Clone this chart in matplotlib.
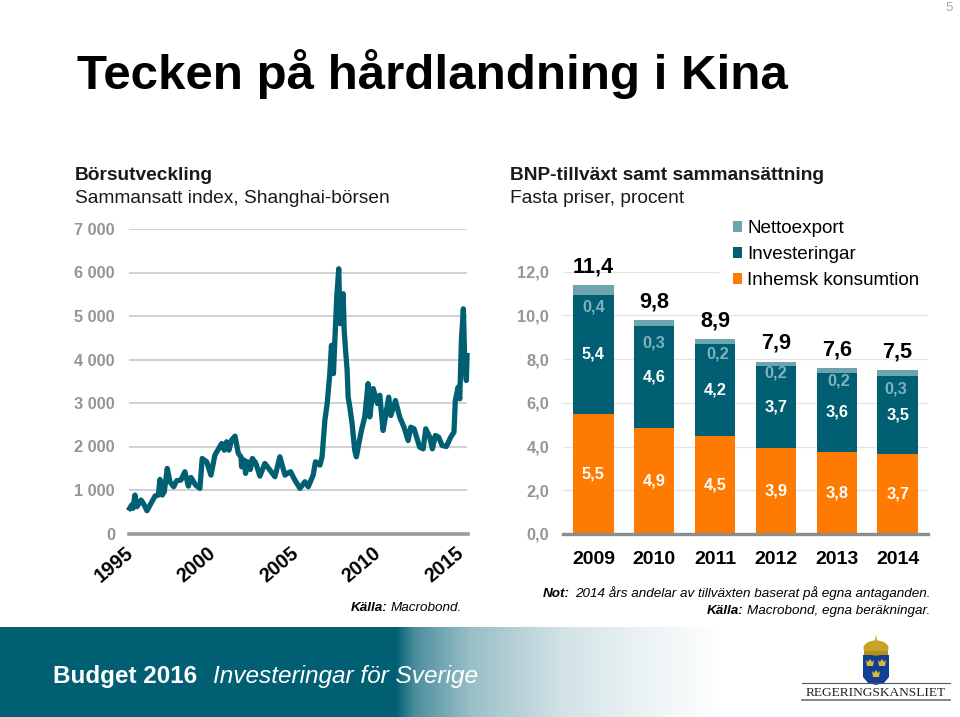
import numpy as np
import matplotlib
matplotlib.use('Agg')
import matplotlib.pyplot as plt
from matplotlib.patches import Polygon, Rectangle, Ellipse
from matplotlib.transforms import ScaledTranslation

plt.rcParams['font.family'] = ['Liberation Sans', 'DejaVu Sans']

W, H = 960, 717
TEAL = '#005f73'
LIGHT_TEAL = '#6ea4af'
ORANGE = '#ff7a00'
GREY = '#959595'

# Shanghai composite
index_years = [1995.04, 1995.16, 1995.24, 1995.36, 1995.48, 1995.73, 1995.87, 1996.09, 1996.33, 1996.58,
               1996.78, 1996.88, 1997.02, 1997.14, 1997.32, 1997.48, 1997.71, 1997.89, 1998.15, 1998.39,
               1998.60, 1998.76, 1999.04, 1999.30, 1999.44, 1999.71, 1999.97, 2000.21, 2000.62, 2000.78,
               2000.92, 2001.06, 2001.22, 2001.43, 2001.63, 2001.79, 2001.83, 2001.99, 2002.07, 2002.19,
               2002.36, 2002.48, 2002.68, 2002.94, 2003.24, 2003.55, 2003.85, 2004.15, 2004.46, 2004.66,
               2004.80, 2005.06, 2005.37, 2005.67, 2005.87, 2006.17, 2006.31, 2006.58, 2006.71, 2006.88,
               2007.02, 2007.18, 2007.28, 2007.40, 2007.52, 2007.60, 2007.72, 2007.80, 2007.99, 2008.05,
               2008.15, 2008.23, 2008.29, 2008.39, 2008.53, 2008.69, 2008.79, 2008.94, 2009.10, 2009.30,
               2009.50, 2009.60, 2009.81, 2010.07, 2010.21, 2010.41, 2010.55, 2010.75, 2010.88, 2011.16,
               2011.42, 2011.68, 2011.93, 2012.09, 2012.29, 2012.63, 2012.84, 2013.00, 2013.24, 2013.40,
               2013.58, 2013.78, 2013.99, 2014.25, 2014.51, 2014.71, 2014.79, 2014.96, 2015.06, 2015.16,
               2015.28, 2015.36, 2015.46, 2015.50]
index_values = [578, 654, 578, 884, 616, 769, 692, 524, 692, 861,
                884, 1243, 884, 960, 1496, 1190, 1075, 1213, 1228, 1419,
                1090, 1289, 1113, 1037, 1725, 1649, 1343, 1802, 2069, 1916,
                2108, 1916, 2146, 2238, 1840, 1763, 1534, 1687, 1381, 1649,
                1472, 1725, 1625, 1319, 1610, 1457, 1304, 1763, 1343, 1395,
                1419, 1228, 1037, 1190, 1075, 1343, 1649, 1572, 1763, 2605,
                2987, 3676, 4326, 3676, 4747, 5435, 6086, 4823, 5512, 4670,
                4135, 3752, 3140, 2911, 2528, 1916, 1763, 2069, 2375, 2681,
                3446, 2681, 3332, 2987, 3179, 2368, 2674, 3134, 2712, 3057,
                2674, 2444, 2138, 2444, 2406, 1985, 1946, 2406, 2214, 1946,
                2253, 2214, 2023, 2000, 2214, 2329, 3057, 3363, 3095, 4436,
                5164, 3976, 3517, 4091]
index_yticks = [0, 1000, 2000, 3000, 4000, 5000, 6000, 7000]
index_ylabels = ['0', '1 000', '2 000', '3 000', '4 000', '5 000', '6 000', '7 000']
index_xticks = [1995, 2000, 2005, 2010, 2015]

# GDP growth contributions
gdp_years = ['2009', '2010', '2011', '2012', '2013', '2014']
consumption = [5.5, 4.85, 4.5, 3.92, 3.75, 3.66]
investment = [5.43, 4.65, 4.2, 3.75, 3.63, 3.55]
net_export = [0.45, 0.3, 0.2, 0.22, 0.2, 0.28]
consumption_labels = ['5,5', '4,9', '4,5', '3,9', '3,8', '3,7']
investment_labels = ['5,4', '4,6', '4,2', '3,7', '3,6', '3,5']
net_export_labels = ['0,4', '0,3', '0,2', '0,2', '0,2', '0,3']
total_labels = ['11,4', '9,8', '8,9', '7,9', '7,6', '7,5']
gdp_yticks = [0, 2, 4, 6, 8, 10, 12]
gdp_ylabels = ['0,0', '2,0', '4,0', '6,0', '8,0', '10,0', '12,0']


def axes_px(fig, left, top, right, bottom, **kw):
    return fig.add_axes([left / W, 1 - bottom / H, (right - left) / W, (bottom - top) / H], **kw)


fig = plt.figure(figsize=(9.6, 7.17), dpi=100, facecolor='white')

# full figure overlay in pixel coordinates for the slide furniture
bg = axes_px(fig, 0, 0, W, H, zorder=0)
bg.axis('off')

# footer band
ramp = np.interp(np.arange(W), [0, 395, 415, 470, 560, 640, 720, 960], [0, 0, 0.3, 0.6, 0.82, 0.92, 1, 1])
teal_rgb = np.array(matplotlib.colors.to_rgb(TEAL))
band = teal_rgb + (1 - teal_rgb) * ramp[:, None]
bg.imshow(band[None, :, :], extent=(0, W, H, 627), aspect='auto', zorder=1)
bg.set_xlim(0, W)
bg.set_ylim(H, 0)

bg.text(53, 683, 'Budget 2016', fontsize=17.5, fontweight='bold', color='white', va='baseline')
bg.text(213, 683, 'Investeringar för Sverige', fontsize=17.6, fontstyle='italic', color='white', va='baseline')

bg.text(77, 89, 'Tecken på hårdlandning i Kina', fontsize=35.5, fontweight='bold', color='black', va='baseline')
bg.text(953, 11, '5', fontsize=9.5, color='#a8a8a8', ha='right', va='baseline')

bg.text(75, 180, 'Börsutveckling', fontsize=13.75, fontweight='bold', color='#1a1a1a', va='baseline')
bg.text(75, 203, 'Sammansatt index, Shanghai-börsen', fontsize=13.75, color='#1a1a1a', va='baseline')
bg.text(510, 180, 'BNP-tillväxt samt sammansättning', fontsize=13.75, fontweight='bold', color='#1a1a1a', va='baseline')
bg.text(510, 203, 'Fasta priser, procent', fontsize=13.75, color='#1a1a1a', va='baseline')

bg.text(351, 611, 'Källa:', fontsize=9.7, fontweight='bold', fontstyle='italic', va='baseline')
bg.text(391, 611, 'Macrobond.', fontsize=9.7, fontstyle='italic', va='baseline')
bg.text(543, 597, 'Not:', fontsize=9.7, fontweight='bold', fontstyle='italic', va='baseline')
bg.text(575, 597, '2014 års andelar av tillväxten baserat på egna antaganden.', fontsize=9.7, fontstyle='italic', va='baseline')
bg.text(707, 614, 'Källa:', fontsize=9.7, fontweight='bold', fontstyle='italic', va='baseline')
bg.text(747, 614, 'Macrobond, egna beräkningar.', fontsize=9.7, fontstyle='italic', va='baseline')

# logo
bg.add_patch(Polygon([(863, 655), (889, 655), (889, 677), (884, 683), (876, 685), (868, 683), (863, 677)],
                     facecolor='#123f94', edgecolor='none', zorder=3))
bg.add_patch(Ellipse((876, 648), 25, 15, facecolor='#c9a227', edgecolor='none', zorder=3))
bg.add_patch(Rectangle((864, 651), 24, 4, facecolor='#b58f1e', edgecolor='none', zorder=3))
bg.add_patch(Polygon([(874.5, 642), (876, 635), (877.5, 642)], facecolor='#c9a227', edgecolor='none', zorder=3))
for cx, cy in [(870, 663), (882, 663), (876, 674)]:
    bg.add_patch(Polygon([(cx - 4, cy - 3), (cx - 2, cy - 1), (cx, cy - 4), (cx + 2, cy - 1), (cx + 4, cy - 3),
                          (cx + 3, cy + 3), (cx - 3, cy + 3)], facecolor='#d9b93a', edgecolor='none', zorder=4))
bg.plot([802, 950], [683, 683], color='#555555', lw=0.8, zorder=3)
bg.plot([802, 950], [700, 700], color='#888888', lw=1.4, zorder=3)
bg.text(876, 696.5, 'REGERINGSKANSLIET', family=['Liberation Serif'], fontsize=9.6, color='#222222',
        ha='center', va='baseline', zorder=3)

# left panel: index
ax1 = axes_px(fig, 129, 229, 467.5, 533.5, zorder=2)
ax1.patch.set_alpha(0)
ax1.plot(index_years, index_values, color=TEAL, lw=3.8, solid_joinstyle='round', clip_on=False, zorder=3)
ax1.set_xlim(1995, 2015.53)
ax1.set_ylim(0, 7000)
ax1.set_yticks(index_yticks)
ax1.set_yticklabels(index_ylabels, fontsize=11.8, fontweight='bold', color=GREY)
ax1.set_xticks(index_xticks)
ax1.set_xticklabels(index_xticks, rotation=40, ha='right', rotation_mode='anchor', fontsize=14.2, fontweight='bold')
ax1.tick_params(axis='y', length=0, pad=10)
ax1.tick_params(axis='x', length=0, pad=7)
shift = ScaledTranslation(-4 / 100, 0, fig.dpi_scale_trans)
for lab in ax1.get_xticklabels():
    lab.set_transform(lab.get_transform() + shift)
for name, sp in ax1.spines.items():
    sp.set_visible(name == 'bottom')
ax1.spines['bottom'].set_color('#9a9a9a')
ax1.spines['bottom'].set_linewidth(2.6)
for v in index_yticks[1:]:
    ax1.axhline(v, color='#c8c8c8', lw=1.2, zorder=1)

# right panel: stacked bars
ax2 = axes_px(fig, 563, 271.7, 928, 534, zorder=2)
ax2.patch.set_alpha(0)
x = np.arange(len(gdp_years))
bar_w = 0.663
cons = np.array(consumption)
inv = np.array(investment)
net = np.array(net_export)
ax2.bar(x, cons, bar_w, color=ORANGE, zorder=3, label='Inhemsk konsumtion')
ax2.bar(x, inv, bar_w, bottom=cons, color=TEAL, zorder=3, label='Investeringar')
ax2.bar(x, net, bar_w, bottom=cons + inv, color=LIGHT_TEAL, zorder=3, label='Nettoexport')
ax2.set_xlim(-0.5, 5.5)
ax2.set_ylim(0, 12)
ax2.set_yticks(gdp_yticks)
ax2.set_yticklabels(gdp_ylabels, fontsize=11.8, fontweight='bold', color=GREY)
ax2.set_xticks(x)
ax2.set_xticklabels(gdp_years, fontsize=14, fontweight='bold')
ax2.tick_params(axis='y', length=0, pad=10)
ax2.tick_params(axis='x', length=0, pad=12)
for name, sp in ax2.spines.items():
    sp.set_visible(name == 'bottom')
ax2.spines['bottom'].set_color('#8c8c8c')
ax2.spines['bottom'].set_linewidth(2.4)
ax2.spines['bottom'].set_zorder(4)
for v in gdp_yticks[1:-1]:
    ax2.axhline(v, color='#e4e4e4', lw=0.9, zorder=1)
ax2.plot([-0.5, 2.05], [12, 12], color='#e4e4e4', lw=0.9, zorder=1)

# hand placed in the original: how far below the bar top the net export figure sits, and its shift sideways
net_drop = [0.98, 1.05, 0.65, 0.51, 0.59, 0.86]
net_shift = [0, 0, 0.045, 0, 0.033, -0.027]
for i in x:
    ax2.text(i, cons[i] / 2, consumption_labels[i], color='white', fontsize=11.8, fontweight='bold',
             ha='center', va='center', zorder=5)
    ax2.text(i, cons[i] + inv[i] / 2, investment_labels[i], color='white', fontsize=11.8, fontweight='bold',
             ha='center', va='center', zorder=5)
    top = cons[i] + inv[i] + net[i]
    ax2.text(i + net_shift[i], top - net_drop[i], net_export_labels[i], color='#7fb2bd', fontsize=11.8,
             fontweight='bold', ha='center', va='center', zorder=5)
    ax2.annotate(total_labels[i], (i, top), xytext=(0, 13), textcoords='offset points', ha='center', va='center',
                 fontsize=15.6, fontweight='bold', annotation_clip=False, zorder=5)

handles, labels = ax2.get_legend_handles_labels()
leg = ax2.legend(handles[::-1], labels[::-1], loc='upper left', bbox_to_anchor=(0.4657, 0.197 + 1), frameon=False,
                 fontsize=13.6, handlelength=0.5, handleheight=0.5, handletextpad=0.25, labelspacing=0.48,
                 borderpad=0, borderaxespad=0)
leg.set_zorder(6)

fig.savefig('out.png', dpi=100)
plt.close(fig)
